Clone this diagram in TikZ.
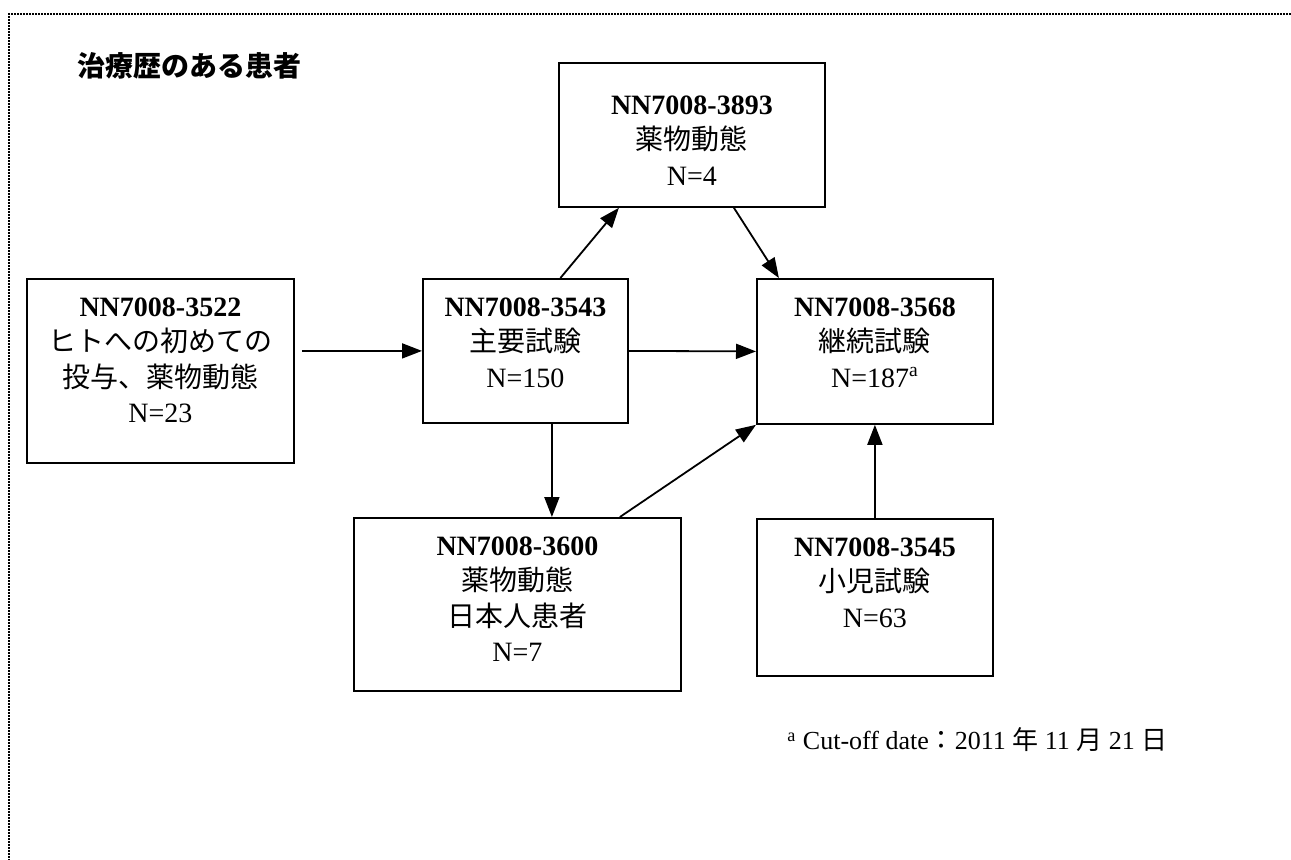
\documentclass[tikz,border=0pt]{standalone}
\usepackage{fontspec}
\setmainfont{Liberation Serif}
\newfontfamily\jp{Noto Sans CJK JP}
\usetikzlibrary{arrows.meta,calc}
\begin{document}
\begin{tikzpicture}[x=0.5pt,y=-0.5pt,
  box/.style={draw, line width=0.9pt, inner sep=0pt, anchor=north west},
  txt/.style={align=center, inner sep=0pt, anchor=north, font=\fontsize{14}{17.75}\selectfont},
  arr/.style={-{Triangle[length=10pt,width=7.5pt]}, line width=0.9pt},
  frame/.style={line width=0.8pt, dash pattern=on 0.8pt off 0.7pt}
]
\useasboundingbox (0,0) rectangle (1291,859);
\coordinate (f1) at (1291,14);
\coordinate (f2) at (9,14);
\coordinate (f3) at (9,859);
\draw[frame] (f1) -- (f2) -- (f3);

\node[anchor=west, inner sep=0pt, font=\jp\bfseries\fontsize{14}{17}\selectfont] (title) at (77,66) {治療歴のある患者};

\node[box, minimum width=133.5pt, minimum height=92pt] (A) at (26,278) {};
\node[box, minimum width=102.5pt, minimum height=72pt] (B) at (422,278) {};
\node[box, minimum width=133pt, minimum height=72pt] (C) at (558,62) {};
\node[box, minimum width=118pt, minimum height=72.5pt] (D) at (756,278) {};
\node[box, minimum width=163.5pt, minimum height=86.5pt] (E) at (353,517) {};
\node[box, minimum width=118pt, minimum height=78.5pt] (F) at (756,518) {};

\node[txt] (At) at ($(A.north)+(0,19)$) {\textbf{NN7008-3522}\\{\jp ヒトへの初めての}\\{\jp 投与、薬物動態}\\N=23};
\node[txt] (Bt) at ($(B.north)+(0,19)$) {\textbf{NN7008-3543}\\{\jp 主要試験}\\N=150};
\node[txt] (Ct) at ($(C.north)+(0,33)$) {\textbf{NN7008-3893}\\{\jp 薬物動態}\\N=4};
\node[txt] (Dt) at ($(D.north)+(0,19)$) {\textbf{NN7008-3568}\\{\jp 継続試験}\\N=187\textsuperscript{a}};
\node[txt] (Et) at ($(E.north)+(0,19)$) {\textbf{NN7008-3600}\\{\jp 薬物動態}\\{\jp 日本人患者}\\N=7};
\node[txt] (Ft) at ($(F.north)+(0,19)$) {\textbf{NN7008-3545}\\{\jp 小児試験}\\N=63};

\node[anchor=west, inner sep=0pt, font=\fontsize{13}{16}\selectfont] (note) at (787,740) {\textsuperscript{a} Cut-off date{\jp ：}2011 {\jp 年} 11 {\jp 月} 21 {\jp 日}};

\draw[arr, shorten <=3.5pt] (A.east |- B.west) -- (B.west);
\draw[arr] (B.east) -- (D.west);
\draw[arr] ($(B.north)+(35,0)$) -- ($(C.south)+(-73,0)$);
\draw[arr] ($(C.south)+(42,0)$) -- ($(D.north)+(-96,0)$);
\coordinate (b1) at ($(B.south)+(26.5,0)$);
\draw[arr] (b1) -- (b1 |- E.north);
\draw[arr] ($(E.north)+(102.5,0)$) -- (D.south west);
\draw[arr] (F.north) -- (D.south);
\end{tikzpicture}
\end{document}
